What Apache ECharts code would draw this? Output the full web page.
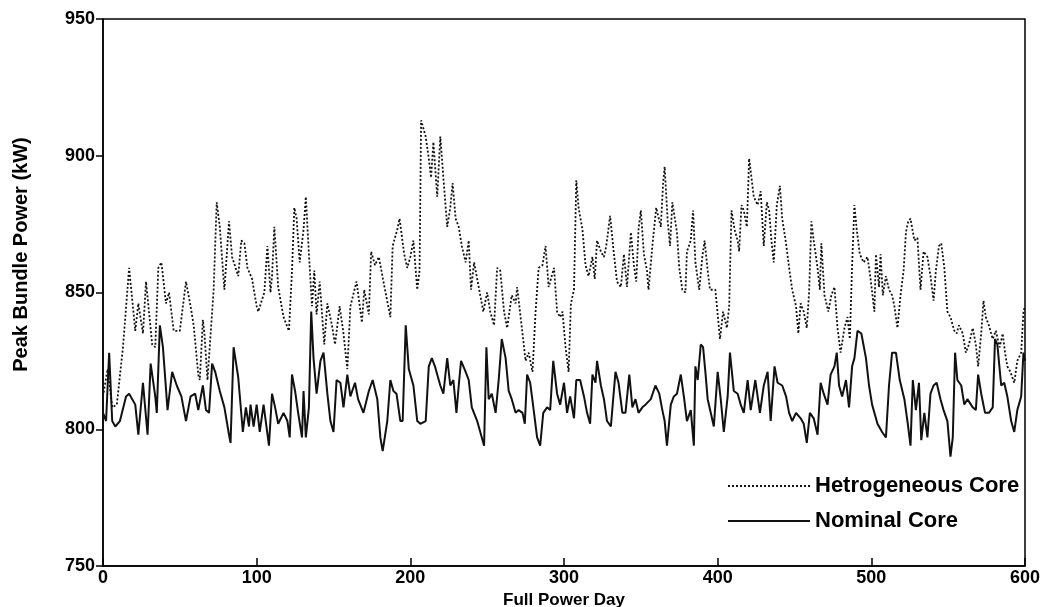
<!DOCTYPE html>
<html>
<head>
<meta charset="utf-8">
<script src="https://cdn.jsdelivr.net/npm/echarts@6/dist/echarts.min.js"></script>
<style>
  html, body { margin: 0; padding: 0; background: #fff; }
  #chart { width: 1053px; height: 607px; }
</style>
</head>
<body>
<div id="chart"></div>
<script>
// [full power day, peak bundle power kW]
var hetCore = [[0,812],[3,822],[6,808],[9,809],[13,830],[17,859],[21,836],[23,846],[26,835],[28,854],[32,831],[34,830],[36,859],[38,861],[41,846],[43,850],[46,836],[50,836],[54,854],[57,845],[59,838],[62,820],[63,818],[65,840],[66,835],[68,818],[72,851],[74,883],[76,874],[79,851],[82,876],[84,863],[88,856],[90,869],[92,868],[94,859],[97,855],[100,845],[101,843],[105,850],[107,867],[109,850],[110,856],[111.5,874],[114,852],[117.5,841],[121,836],[123,858],[124.5,881],[126,877],[128,861],[130.5,873],[132,885],[134,864],[136,845],[137.5,858],[139,842],[141,854],[144,831],[146,846],[149,838],[151,831],[154,845],[156.5,835],[159,822],[161,845],[165,854],[168.5,839],[170,851],[173,842],[174.5,865],[177,860],[179.5,863],[182.5,854],[187,841],[188.5,867],[191.5,873],[193,877],[196,864],[198,859],[200,863],[202,869],[204.5,851],[206,858],[207,913],[210,907],[212,899],[213.5,892],[215,905],[217.5,885],[219.5,907],[221.5,892],[224,874],[226,881],[227.5,890],[229.5,877],[231.5,874],[233.5,867],[236,861],[238,869],[239.5,851],[241.5,861],[244.5,852],[247.5,843],[250,850],[252,843],[254.5,838],[256.5,859],[258.5,858],[261,843],[263,837],[266,849],[268.5,846],[269.5,852],[273,835],[275,825],[277,828],[279.5,821],[281.5,843],[283.5,859],[286,860],[288,867],[290,852],[293.5,859],[295.5,843],[297.5,841],[299,843],[301,830],[303,821],[304.5,846],[306.5,851],[308,891],[309.5,881],[312,873],[314,860],[316,856],[318.5,863],[320,855],[321.5,869],[324,865],[326,863],[327.5,867],[330,878],[332.5,864],[334.5,854],[337,852],[339,864],[341,852],[343.5,872],[345.5,860],[347,854],[348.5,873],[350,880],[352,864],[354,858],[355,851],[357.5,867],[360,881],[363,874],[364.5,890],[365.5,896],[367.5,876],[369,867],[370.5,883],[373.5,872],[375,859],[377,851],[379,850],[380,865],[382.5,869],[384,880],[385.5,861],[388,851],[390,863],[391.5,869],[393.5,858],[395,851],[396.5,851],[398.5,851],[401.5,833],[403.5,843],[406,837],[407.5,845],[409,880],[411,873],[413,869],[414,865],[415.5,882],[417,880],[419,874],[420.5,899],[422,892],[423.5,885],[426,882],[428,887],[430,867],[432,883],[433.5,880],[435,869],[436.5,861],[438.5,882],[440.5,889],[442,877],[444.5,868],[446.5,859],[448.5,851],[451,845],[452.5,835],[454,846],[456,843],[458,837],[459.5,850],[461,876],[462.5,869],[465,859],[466.5,851],[467.5,868],[469.5,849],[472,843],[474,849],[476,852],[478,837],[480,828],[482.5,837],[484.5,841],[486,833],[487.5,860],[489,882],[490.5,873],[492.5,864],[495,861],[497.5,863],[499.5,855],[502,843],[503,864],[505,852],[506,864],[507.5,849],[509.5,856],[511.5,851],[513.5,849],[515,845],[517,837],[519,849],[521,858],[522.5,872],[524,876],[525.5,877],[528,869],[530,870],[532,851],[534,865],[536.5,863],[538.5,856],[540.5,847],[542,858],[544,867],[545.5,868],[547.5,859],[549.5,843],[551.5,841],[554,836],[555.5,835],[557,838],[559.5,835],[561.5,828],[563.5,831],[566,837],[568,831],[569.5,823],[571.5,835],[573,847],[574.5,841],[576.5,838],[579,833],[581,836],[583.5,830],[585.5,835],[587,828],[588.5,823],[590.5,821],[593,817],[595,825],[597.5,828],[599,843],[600,845]];

var nomCore = [[0,806],[2,803],[4,828],[6,803],[8,801],[11,803],[15,812],[17,813],[21,809],[23,798],[26,817],[29,798],[31,824],[34,812],[35,806],[37,838],[39,830],[42,807],[45,821],[48,816],[51,812],[54,803],[57,812],[60,813],[62,807],[65,816],[67,807],[69,806],[71,824],[73,821],[76,814],[79,808],[82,798],[83,795],[85,830],[88,819],[91,799],[93,808],[95,801],[96,809],[98,801],[100,809],[102,799],[104.5,809],[108,794],[110,813],[112,808],[114,802],[117.5,806],[120,803],[121.5,797],[123,820],[125,814],[127,806],[129.5,797],[130.5,814],[132,797],[134,808],[135.5,843],[137,826],[139,813],[141.5,825],[143.5,828],[146,813],[148,803],[150,799],[152,818],[154.5,817],[156.5,808],[159,820],[161,812],[164,817],[166,811],[169.5,806],[173,814],[175.5,818],[178.5,811],[180.5,797],[182,792],[185,803],[187,818],[189,814],[191,813],[193.5,803],[195,803],[197,838],[199,822],[202,816],[204.5,803],[206.5,802],[210,803],[212,823],[214,826],[216,823],[219.5,816],[221.5,813],[224,826],[226,816],[228,818],[230,806],[231.5,816],[233,825],[236,821],[238,818],[240,808],[243.5,803],[246.5,797],[248,794],[249.5,830],[251,811],[253,813],[255.5,806],[257.5,818],[259.5,833],[262,826],[264,814],[266,811],[268.5,806],[270.5,807],[273,806],[274.5,802],[276,820],[278,817],[280.5,806],[282.5,797],[284.5,794],[286.5,806],[289,808],[291,807],[293,825],[295.5,813],[297.5,809],[300,817],[302,806],[304,812],[306.5,804],[308,818],[310.5,818],[313,812],[315,806],[317,802],[318.5,820],[320.5,817],[321.5,825],[324,816],[326,811],[328,803],[330.5,801],[333.5,821],[335.5,817],[338,806],[340,806],[342.5,820],[344.5,808],[346.5,811],[348.5,806],[351,808],[353,809],[356.5,811],[359.5,816],[362,813],[364,807],[365.5,803],[367,794],[369.5,809],[371.5,812],[373.5,813],[376,820],[378,812],[380,803],[382.5,807],[384.5,794],[385.5,823],[387,818],[389,831],[390.5,830],[392,821],[393.5,811],[395.5,806],[397.5,801],[400,821],[402,811],[404,799],[406.5,812],[408,828],[410.5,814],[413,813],[415,809],[417,806],[419.5,818],[421.5,807],[424.5,818],[427.5,806],[430,816],[432.5,821],[434.5,803],[437,823],[439,817],[442,816],[444.5,812],[446.5,806],[448.5,803],[451,806],[454,804],[456,802],[458,795],[460,806],[462.5,804],[465,798],[467,817],[469,813],[471.5,809],[473.5,820],[476,823],[477.5,828],[479,816],[481,812],[483.5,818],[485.5,808],[487.5,823],[489,826],[491,836],[493.5,835],[496.5,826],[498.5,816],[500.5,809],[504,802],[507,799],[509.5,797],[511.5,816],[513.5,828],[516,828],[518.5,818],[521.5,811],[523.5,803],[525.5,794],[527,818],[529,807],[531,817],[532.5,796],[534.5,806],[536.5,797],[538.5,813],[540.5,816],[542.5,817],[545,811],[547,807],[549.5,803],[551.5,790],[553,797],[554.5,828],[556,818],[558.5,816],[560.5,809],[562.5,811],[566,808],[568,807],[569.5,820],[571.5,813],[574,806],[576.5,806],[579,808],[580.5,833],[582,831],[584.5,816],[586.5,817],[588.5,812],[591,803],[593,799],[595,807],[597.5,812],[599,828],[600,825]];

var seriesNames = ['Hetrogeneous Core', 'Nominal Core'];
var dayTicks = [0, 100, 200, 300, 400, 500, 600];
var powerTicks = [750, 800, 850, 900, 950];

var font = 'Liberation Sans, Arial, sans-serif';
var chart = echarts.init(document.getElementById('chart'), null, { renderer: 'canvas' });

var option = {
    backgroundColor: '#fff',
    animation: false,
    grid: {
        left: 103, right: 28, top: 19, bottom: 41,
        outerBoundsMode: 'none',
        show: true, borderColor: '#000', borderWidth: 1.5
    },
    legend: {
        orient: 'vertical',
        left: 722,
        top: 470,
        itemWidth: 82,
        itemHeight: 14,
        itemGap: 13,
        itemStyle: { opacity: 0 },
        textStyle: { fontFamily: font, fontWeight: 'bold', fontSize: 22, color: '#000' },
        data: seriesNames
    },
    xAxis: {
        type: 'value',
        min: dayTicks[0],
        max: dayTicks[dayTicks.length - 1],
        interval: 100,
        name: 'Full Power Day',
        nameLocation: 'middle',
        nameGap: 13,
        nameTextStyle: { fontFamily: font, fontWeight: 'bold', fontSize: 17, color: '#000' },
        axisLine: { lineStyle: { color: '#000', width: 1.5 } },
        axisTick: { inside: true, length: 8, lineStyle: { color: '#000', width: 1.5 } },
        axisLabel: { fontFamily: font, fontWeight: 'bold', fontSize: 18, color: '#000', margin: 3 },
        splitLine: { show: false }
    },
    yAxis: {
        type: 'value',
        min: powerTicks[0],
        max: powerTicks[powerTicks.length - 1],
        interval: 50,
        name: 'Peak Bundle Power (kW)',
        nameLocation: 'middle',
        nameGap: 72,
        nameTextStyle: { fontFamily: font, fontWeight: 'bold', fontSize: 20, color: '#000', padding: [0, 0, 0, 76] },
        axisLine: { lineStyle: { color: '#000', width: 1.5 } },
        axisTick: { length: 7, lineStyle: { color: '#000', width: 1.5 } },
        axisLabel: { fontFamily: font, fontWeight: 'bold', fontSize: 18, color: '#000', margin: 8 },
        splitLine: { show: false }
    },
    series: [
        {
            name: seriesNames[0],
            type: 'line',
            data: hetCore,
            symbol: 'none',
            lineStyle: { color: '#111', width: 1.8, type: [2, 2] },
            itemStyle: { color: '#111' }
        },
        {
            name: seriesNames[1],
            type: 'line',
            data: nomCore,
            symbol: 'none',
            lineStyle: { color: '#111', width: 2 },
            itemStyle: { color: '#111' }
        }
    ]
};
chart.setOption(option);
</script>
</body>
</html>
